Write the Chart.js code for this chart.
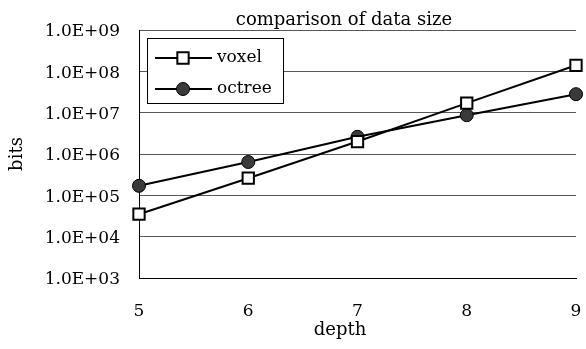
<!DOCTYPE html>
<html>
<head>
<meta charset="utf-8">
<script src="https://cdn.jsdelivr.net/npm/chart.js@4.4.1/dist/chart.umd.min.js"></script>
<style>
  html, body { margin: 0; padding: 0; background: #fff; }
  #wrap { width: 586px; height: 349px; }
</style>
</head>
<body>
<div id="wrap"><canvas id="sizeChart" width="586" height="349"></canvas></div>
<script>
const depths = ['5', '6', '7', '8', '9'];
const voxelBits = [3.5e4, 2.6e5, 2.0e6, 1.7e7, 1.4e8];
const octreeBits = [1.7e5, 6.4e5, 2.6e6, 8.7e6, 2.8e7];
const yTicks = [1e3, 1e4, 1e5, 1e6, 1e7, 1e8, 1e9];

const SERIF = '"DejaVu Serif", "Liberation Serif", serif';

function sci(v) {
    const e = Math.round(Math.log10(v));
    return '1.0E+' + String(e).padStart(2, '0');
}

// legend box inside the plot and the two centred texts, drawn like the excel original
const excelBits = {
    id: 'excelBits',
    afterDraw(chart) {
        const ctx = chart.ctx;
        ctx.save();
        ctx.fillStyle = '#000';
        ctx.font = '18px ' + SERIF;
        ctx.textAlign = 'center';
        ctx.textBaseline = 'alphabetic';
        ctx.fillText('comparison of data size', 344, 25);
        ctx.fillText('depth', 340, 335);

        // legend
        ctx.fillStyle = '#fff';
        ctx.fillRect(147.5, 38.5, 136, 65);
        ctx.strokeStyle = '#000';
        ctx.lineWidth = 1;
        ctx.strokeRect(147.5, 38.5, 136, 65);
        const rows = [58, 89];
        chart.data.datasets.forEach((ds, i) => {
            const y = rows[i];
            ctx.strokeStyle = ds.borderColor;
            ctx.lineWidth = 2;
            ctx.beginPath();
            ctx.moveTo(155, y);
            ctx.lineTo(212, y);
            ctx.stroke();
            ctx.lineWidth = ds.pointBorderWidth;
            ctx.fillStyle = ds.pointBackgroundColor;
            ctx.strokeStyle = ds.pointBorderColor;
            ctx.beginPath();
            if (ds.pointStyle === 'rect') {
                const s = ds.pointRadius * Math.SQRT1_2;
                ctx.rect(183 - s, y - s, 2 * s, 2 * s);
            } else {
                ctx.arc(183, y, ds.pointRadius, 0, Math.PI * 2);
            }
            ctx.fill();
            ctx.stroke();
            ctx.fillStyle = '#000';
            ctx.font = '17px ' + SERIF;
            ctx.textAlign = 'left';
            ctx.textBaseline = 'middle';
            ctx.fillText(ds.label, 217, y);
        });
        ctx.restore();
    }
};

Chart.defaults.font.family = SERIF;
Chart.defaults.color = '#000';

new Chart(document.getElementById('sizeChart').getContext('2d'), {
    type: 'line',
    data: {
        labels: depths,
        datasets: [{
            label: 'voxel',
            data: voxelBits,
            borderColor: '#000',
            borderWidth: 2,
            pointStyle: 'rect',
            pointRadius: 8,
            pointBackgroundColor: '#fff',
            pointBorderColor: '#000',
            pointBorderWidth: 2,
            tension: 0
        }, {
            label: 'octree',
            data: octreeBits,
            borderColor: '#000',
            borderWidth: 2,
            pointStyle: 'circle',
            pointRadius: 6.5,
            pointBackgroundColor: '#3a3a3a',
            pointBorderColor: '#000',
            pointBorderWidth: 1,
            tension: 0
        }]
    },
    options: {
        responsive: false,
        animation: false,
        layout: {
            padding: { left: 0, right: 7, top: 30, bottom: 0 }
        },
        plugins: {
            legend: { display: false },
            title: { display: false },
            tooltip: { enabled: false }
        },
        scales: {
            x: {
                type: 'category',
                offset: false,
                grid: { display: false },
                border: { display: true, color: '#000', width: 1 },
                ticks: { padding: 15, font: { size: 17 } },
                afterFit(scale) {
                    scale.height = 71;
                    scale.paddingLeft = 0;
                    scale.paddingRight = 0;
                }
            },
            y: {
                type: 'logarithmic',
                min: 1e3,
                max: 1e9,
                afterBuildTicks(scale) {
                    scale.ticks = yTicks.map(v => ({ value: v }));
                },
                grid: { color: '#585858', lineWidth: 1, drawTicks: false },
                border: { display: true, color: '#000', width: 1 },
                ticks: {
                    padding: 19,
                    labelOffset: 2,
                    font: { size: 17 },
                    callback: (v) => sci(v)
                },
                title: {
                    display: true,
                    text: 'bits',
                    font: { size: 18 },
                    padding: { top: 7, bottom: 0 }
                },
                afterFit(scale) {
                    scale.width = 139;
                    scale.paddingTop = 0;
                    scale.paddingBottom = 0;
                }
            }
        }
    },
    plugins: [excelBits]
});
</script>
</body>
</html>
